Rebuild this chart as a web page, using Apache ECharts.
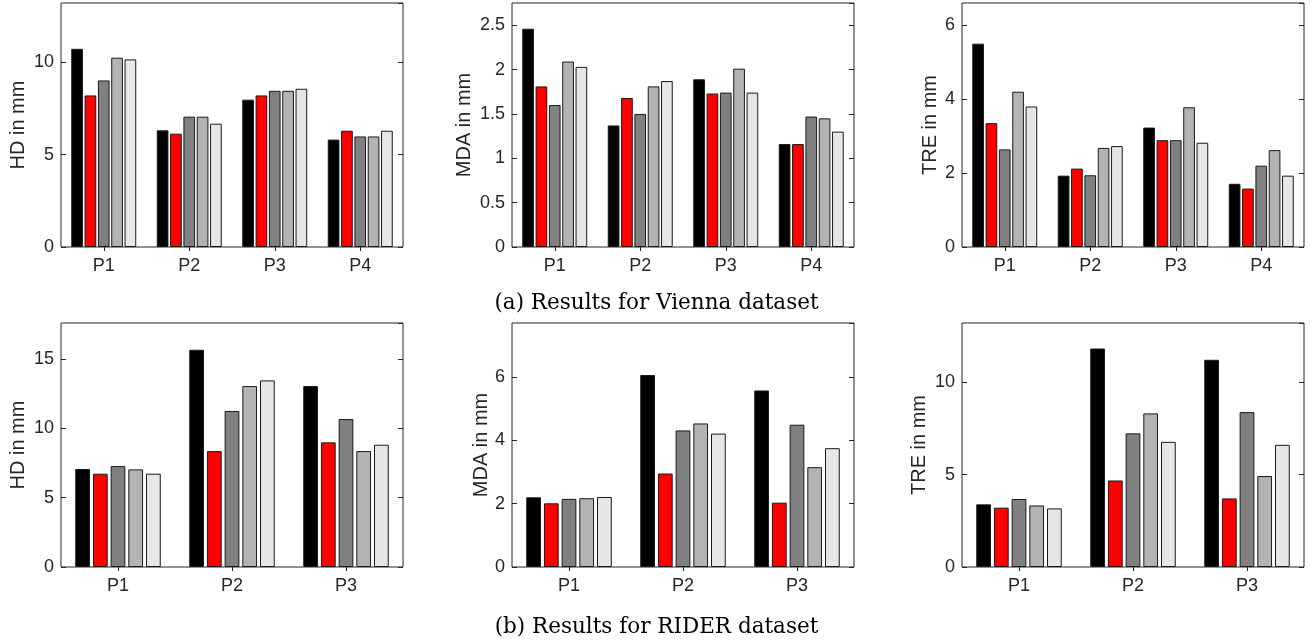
<!DOCTYPE html>
<html>
<head>
<meta charset="utf-8">
<script src="https://cdn.jsdelivr.net/npm/echarts@6/dist/echarts.min.js"></script>
<style>
  html, body { margin: 0; padding: 0; background: #fff; }
  #main { width: 1313px; height: 640px; }
</style>
</head>
<body>
<div id="main"></div>
<script>
// categories
var viennaCats = ['P1', 'P2', 'P3', 'P4'];
var riderCats = ['P1', 'P2', 'P3'];

// one row per method (black, red, dark gray, gray, light gray)
var viennaHD = [
  [10.72, 6.31, 7.97, 5.81],
  [8.20, 6.13, 8.20, 6.29],
  [9.01, 7.05, 8.45, 5.98],
  [10.24, 7.05, 8.45, 5.98],
  [10.15, 6.67, 8.56, 6.29]
];
var viennaMDA = [
  [2.46, 1.37, 1.89, 1.16],
  [1.81, 1.68, 1.73, 1.16],
  [1.60, 1.50, 1.74, 1.47],
  [2.09, 1.81, 2.01, 1.45],
  [2.03, 1.87, 1.74, 1.30]
];
var viennaTRE = [
  [5.50, 1.93, 3.23, 1.71],
  [3.35, 2.12, 2.89, 1.58],
  [2.64, 1.94, 2.89, 2.20],
  [4.20, 2.68, 3.78, 2.62],
  [3.80, 2.73, 2.82, 1.93]
];
var riderHD = [
  [7.07, 15.67, 13.05],
  [6.73, 8.36, 8.99],
  [7.28, 11.25, 10.67],
  [7.04, 13.05, 8.36],
  [6.73, 13.46, 8.82]
];
var riderMDA = [
  [2.20, 6.06, 5.57],
  [2.01, 2.95, 2.03],
  [2.15, 4.31, 4.49],
  [2.17, 4.53, 3.15],
  [2.21, 4.21, 3.75]
];
var riderTRE = [
  [3.39, 11.82, 11.21],
  [3.21, 4.68, 3.71],
  [3.68, 7.23, 8.38],
  [3.33, 8.31, 4.92],
  [3.17, 6.77, 6.61]
];

var barColors = ['#000000', '#ff0000', '#808080', '#b3b3b3', '#e6e6e6'];
var captions = ['(a) Results for Vienna dataset', '(b) Results for RIDER dataset'];

var panels = [
  {name: 'HD in mm',  cats: viennaCats, data: viennaHD,  max: 13.2, interval: 5,   left: 61,  top: 3,   nameGap: 33, catGap: '24%', barGap: '14%'},
  {name: 'MDA in mm', cats: viennaCats, data: viennaMDA, max: 2.75, interval: 0.5, left: 512, top: 3,   nameGap: 38, catGap: '24%', barGap: '14%'},
  {name: 'TRE in mm', cats: viennaCats, data: viennaTRE, max: 6.6,  interval: 2,   left: 962, top: 3,   nameGap: 22, catGap: '24%', barGap: '14%'},
  {name: 'HD in mm',  cats: riderCats,  data: riderHD,   max: 17.6, interval: 5,   left: 61,  top: 323, nameGap: 33, catGap: '25%', barGap: '20%'},
  {name: 'MDA in mm', cats: riderCats,  data: riderMDA,  max: 7.7,  interval: 2,   left: 512, top: 323, nameGap: 21, catGap: '25%', barGap: '20%'},
  {name: 'TRE in mm', cats: riderCats,  data: riderTRE,  max: 13.2, interval: 5,   left: 962, top: 323, nameGap: 33, catGap: '25%', barGap: '20%'}
];

var axisColor = '#262626';
var font = 'Liberation Sans';

var grids = [], xAxes = [], yAxes = [], series = [];

panels.forEach(function (p, i) {
  grids.push({
    left: p.left, top: p.top, width: 342, height: 244,
    show: true, borderColor: axisColor, borderWidth: 1
  });
  // bottom axis with labels
  xAxes.push({
    type: 'category', gridIndex: i, data: p.cats, position: 'bottom',
    axisLine: {show: false},
    axisTick: {show: true, inside: true, alignWithLabel: true, length: 4, lineStyle: {color: axisColor}},
    axisLabel: {color: axisColor, fontSize: 18, fontFamily: font, margin: 10}
  });
  // top axis, ticks only
  xAxes.push({
    type: 'category', gridIndex: i, data: p.cats, position: 'top',
    axisLine: {show: false},
    axisTick: {show: true, inside: true, alignWithLabel: true, length: 4, lineStyle: {color: axisColor}},
    axisLabel: {show: false}
  });
  yAxes.push({
    type: 'value', gridIndex: i, position: 'left',
    min: 0, max: p.max, interval: p.interval,
    name: p.name, nameLocation: 'middle', nameGap: p.nameGap,
    nameTextStyle: {color: axisColor, fontSize: 20, fontFamily: font},
    axisLine: {show: false},
    splitLine: {show: false},
    axisTick: {show: true, inside: true, length: 5, lineStyle: {color: axisColor}},
    axisLabel: {color: axisColor, fontSize: 18, fontFamily: font, margin: 7, showMaxLabel: false}
  });
  yAxes.push({
    type: 'value', gridIndex: i, position: 'right',
    min: 0, max: p.max, interval: p.interval,
    axisLine: {show: false},
    splitLine: {show: false},
    axisTick: {show: true, inside: true, length: 5, lineStyle: {color: axisColor}},
    axisLabel: {show: false}
  });
  p.data.forEach(function (vals, j) {
    series.push({
      type: 'bar',
      xAxisIndex: 2 * i,
      yAxisIndex: 2 * i,
      data: vals,
      barGap: p.barGap,
      barCategoryGap: p.catGap,
      itemStyle: {color: barColors[j], borderColor: '#1a1a1a', borderWidth: 1},
      silent: true
    });
  });
});

var chart = echarts.init(document.getElementById('main'));
chart.setOption({
  animation: false,
  title: [
    {text: captions[0], left: 'center', top: 292, padding: 0,
     textStyle: {fontFamily: 'DejaVu Serif', fontSize: 21.5, fontWeight: 'normal', color: '#000'}},
    {text: captions[1], left: 'center', top: 616, padding: 0,
     textStyle: {fontFamily: 'DejaVu Serif', fontSize: 21.5, fontWeight: 'normal', color: '#000'}}
  ],
  grid: grids,
  xAxis: xAxes,
  yAxis: yAxes,
  series: series
});
</script>
</body>
</html>
